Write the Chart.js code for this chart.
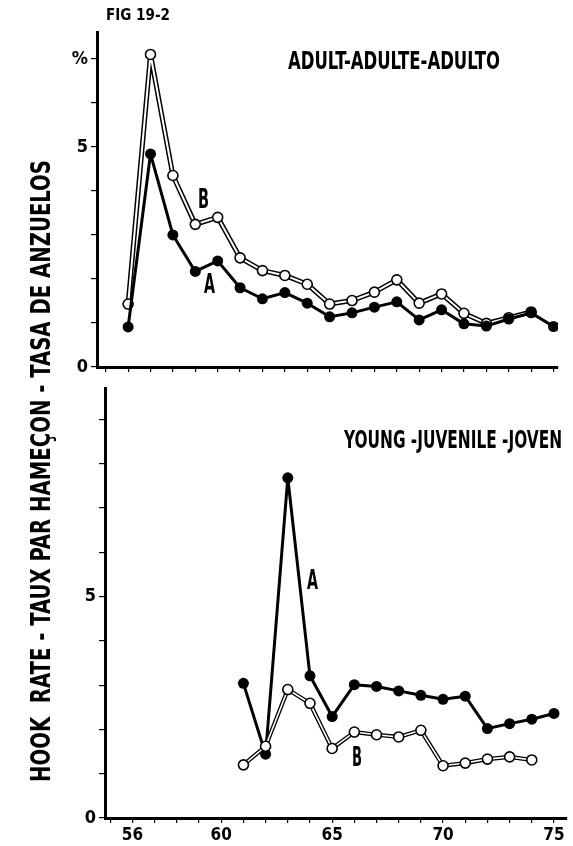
<!DOCTYPE html>
<html>
<head>
<meta charset="utf-8">
<script src="https://cdn.jsdelivr.net/npm/chart.js@4.4.1/dist/chart.umd.min.js"></script>
<style>
  html, body { margin:0; padding:0; background:#fff; }
  #wrap { position:relative; width:573px; height:846px; overflow:hidden; background:#fff; }
  canvas { position:absolute; left:0; }
  .lbl { position:absolute; font-family:"Liberation Sans Narrow","DejaVu Sans Condensed","Roboto",sans-serif; font-weight:bold; color:#000; white-space:nowrap; line-height:1; transform-origin:0 0; }
</style>
</head>
<body>
<div id="wrap">
  <canvas id="topChart" style="top:0px" width="573" height="385"></canvas>
  <canvas id="botChart" style="top:375px" width="573" height="471"></canvas>

  <div class="lbl" id="fig" data-w="64" style="left:106px; top:8px; font-size:15px;">FIG 19-2</div>
  <div class="lbl" id="t1" data-w="212" style="left:288px; top:49px; font-size:24px;">ADULT-ADULTE-ADULTO</div>
  <div class="lbl" id="t2" data-w="218" style="left:344px; top:428px; font-size:24px;">YOUNG -JUVENILE -JOVEN</div>
  <div class="lbl" data-w="11" style="left:198px; top:186px; font-size:26px;">B</div>
  <div class="lbl" data-w="11" style="left:204px; top:271px; font-size:26px;">A</div>
  <div class="lbl" data-w="11" style="left:307px; top:567px; font-size:26px;">A</div>
  <div class="lbl" data-w="10" style="left:352px; top:744px; font-size:26px;">B</div>
  <div class="lbl" id="ytitle" data-w="622" data-rot="1" style="left:27px; top:782px; font-size:27px;">HOOK&nbsp; RATE - TAUX PAR HAMEÇON - TASA DE ANZUELOS</div>
</div>
<script>
// Fig 19-2 : hook rate (%) by year, adult (top) and young (bottom) fish, series A and B

const topYearsA = [56,57,58,59,60,61,62,63,64,65,66,67,68,69,70,71,72,73,74,75];
const topA = [0.91,4.84,3.0,2.17,2.41,1.8,1.55,1.69,1.45,1.14,1.23,1.36,1.48,1.07,1.3,0.98,0.93,1.09,1.23,0.92];
const topYearsB = [56,57,58,59,60,61,62,63,64,65,66,67,68,69,70,71,72,73,74];
const topB = [1.43,7.1,4.35,3.24,3.4,2.48,2.19,2.08,1.88,1.43,1.51,1.7,1.98,1.45,1.66,1.22,0.99,1.12,1.25];

const botYearsA = [61,62,63,64,65,66,67,68,69,70,71,72,73,74,75];
const botA = [3.04,1.44,7.68,3.21,2.29,3.01,2.97,2.87,2.77,2.68,2.75,2.02,2.13,2.23,2.36];
const botYearsB = [61,62,63,64,65,66,67,68,69,70,71,72,73,74];
const botB = [1.2,1.62,2.9,2.59,1.57,1.94,1.88,1.83,1.98,1.18,1.24,1.33,1.38,1.31];

const xLabels = [56,60,65,70,75];
const topYLabels = {7:'%', 5:'5', 0:'0'};
const botYLabels = {5:'5', 0:'0'};

const FONT = "'Liberation Sans Narrow','DejaVu Sans Condensed',sans-serif";

function pts(xs, ys){ return xs.map((x,i) => ({x:x, y:ys[i]})); }

function seriesA(data, order){
  return { data: data, borderColor:'#000', borderWidth:3, backgroundColor:'#000', borderJoinStyle:'round',
           pointRadius:5.5, pointBorderWidth:0, pointBackgroundColor:'#000', tension:0, order:order };
}
function seriesBOutline(data, w, order){
  return { data: data, borderColor:'#000', borderWidth:w, borderJoinStyle:'round', pointRadius:0, tension:0, order:order };
}
function seriesBInner(data, w, order){
  return { data: data, borderColor:'#fff', borderWidth:w, borderJoinStyle:'round', pointRadius:5, pointBorderWidth:1.6,
           pointBorderColor:'#000', pointBackgroundColor:'#fff', tension:0, order:order };
}

function makeChart(id, datasets, cfg){
  return new Chart(document.getElementById(id), {
    type: 'line',
    data: { datasets: datasets },
    options: {
      responsive:false, animation:false, devicePixelRatio:1,
      layout:{ padding:{ top:cfg.padTop, right:cfg.padRight, left:0, bottom:0 } },
      plugins:{ legend:{display:false}, tooltip:{enabled:false} },
      scales:{
        x:{
          type:'linear', min:cfg.xMin, max:cfg.xMax,
          border:{ display:true, color:'#000', width:3 },
          grid:{ drawOnChartArea:false, drawTicks:true, tickLength:5, color:'#000', lineWidth:1.2 },
          ticks:{ stepSize:1, autoSkip:false, includeBounds:false, maxRotation:0, padding:2, color:'#000',
                  font:{ family:FONT, weight:'bold', size:17 },
                  callback: v => (cfg.showX && xLabels.includes(v)) ? String(v) : '' },
          afterFit: s => { s.height = cfg.xHeight; }
        },
        y:{
          min:0, max:cfg.yMax,
          border:{ display:true, color:'#000', width:3 },
          grid:{ drawOnChartArea:false, drawTicks:true, tickLength:6, color:'#000', lineWidth:1.2 },
          ticks:{ stepSize:1, autoSkip:false, includeBounds:false, padding:3, color:'#000',
                  font:{ family:FONT, weight:'bold', size:18 },
                  callback: v => (cfg.yLabels[v] !== undefined ? cfg.yLabels[v] : '') },
          afterFit: s => { s.width = cfg.yWidth; }
        }
      }
    }
  });
}

// top panel: adult
makeChart('topChart', [
  seriesA(pts(topYearsA, topA), 0),
  seriesBInner(pts(topYearsB, topB), 2, 1),
  seriesBOutline(pts(topYearsB, topB), 5, 2)
], { padTop:32, padRight:15, xMin:54.61, xMax:75.2, yMax:7.61, xHeight:18, yWidth:97, showX:false, yLabels:topYLabels });

// bottom panel: young
makeChart('botChart', [
  seriesBInner(pts(botYearsB, botB), 1.6, 0),
  seriesBOutline(pts(botYearsB, botB), 4.2, 1),
  seriesA(pts(botYearsA, botA), 2)
], { padTop:7, padRight:0, xMin:54.76, xMax:75.56, yMax:9.69, xHeight:28, yWidth:105, showX:true, yLabels:botYLabels });

// squeeze the condensed lettering to the widths measured on the figure
document.querySelectorAll('.lbl').forEach(el => {
  const target = Number(el.dataset.w);
  const w = el.getBoundingClientRect().width;
  const k = target / w;
  if(el.dataset.rot){
    el.style.transform = 'rotate(-90deg) scaleX(' + k + ')';
  } else {
    el.style.transform = 'scaleX(' + k + ')';
  }
});
</script>
</body>
</html>
